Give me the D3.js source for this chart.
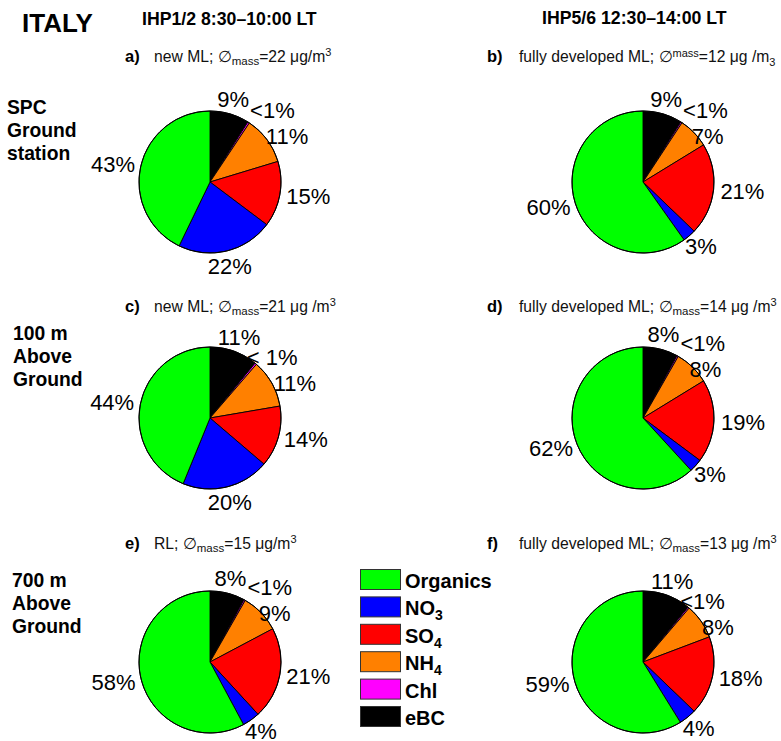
<!DOCTYPE html>
<html><head><meta charset="utf-8">
<script src="https://cdn.jsdelivr.net/npm/d3@7"></script>
<style>body{margin:0;background:#fff}svg{display:block;font-family:"Liberation Sans",Arial,Helvetica,sans-serif}</style>
</head><body>
<svg id="c" width="781" height="741"></svg>
<script>
// ---- data ----
const components = ["eBC","Chl","NH4","SO4","NO3","Organics"];
const colors = ["#000000","#ff00ff","#ff8000","#ff0000","#0000ff","#00ff00"];
const pieA = [9, 0.4, 11, 15, 22, 43];
const pieB = [9, 0.3, 7, 21, 3, 60];
const pieC = [11, 0.4, 11, 14, 20, 44];
const pieD = [8, 0.3, 8, 19, 3, 62];
const pieE = [8, 0.3, 9, 21, 4, 58];
const pieF = [11, 0.3, 8, 18, 4, 59];
const labA = ["9%","<1%","11%","15%","22%","43%"];
const labB = ["9%","<1%","7%","21%","3%","60%"];
const labC = ["11%","< 1%","11%","14%","20%","44%"];
const labD = ["8%","<1%","8%","19%","3%","62%"];
const labE = ["8%","<1%","9%","21%","4%","58%"];
const labF = ["11%","<1%","8%","18%","4%","59%"];
const panelLetters = ["a)","b)","c)","d)","e)","f)"];
const panelLayer = ["new ML","fully developed ML","new ML","fully developed ML","RL","fully developed ML"];
const panelMass = [22,12,21,14,15,13];
const columnTitles = ["IHP1/2 8:30\u201310:00 LT","IHP5/6 12:30\u201314:00 LT"];
const rowTitles = [["SPC","Ground","station"],["100 m","Above","Ground"],["700 m","Above","Ground"]];
const legendOrder = [["Organics",""],["NO","3"],["SO","4"],["NH","4"],["Chl",""],["eBC",""]];
const legendColors = ["#00ff00","#0000ff","#ff0000","#ff8000","#ff00ff","#000000"];

// ---- layout ----
const svg = d3.select("#c");
const colX = [210, 643], rowY = [182, 418, 662], R = 71;
const subY = [62, 312, 549];
const rowBase = [114, 340, 587], rowX = [7, 13, 12];

svg.append("text").attr("x",22).attr("y",32).attr("font-size",26).attr("font-weight","bold").text("ITALY");
svg.append("text").attr("x",142).attr("y",25).attr("font-size",17.7).attr("font-weight","bold").text(columnTitles[0]);
svg.append("text").attr("x",542).attr("y",24).attr("font-size",17.7).attr("font-weight","bold").text(columnTitles[1]);

rowTitles.forEach((lines,i)=>{
  const t = svg.append("text").attr("font-size",19.3).attr("font-weight","bold");
  lines.forEach((l,j)=>t.append("tspan").attr("x",rowX[i]).attr("y",rowBase[i]+j*23).text(l));
});

const pies = [pieA,pieB,pieC,pieD,pieE,pieF];
const labs = [labA,labB,labC,labD,labE,labF];
const pieGen = d3.pie().sort(null).value(d=>d);
const arc = d3.arc().innerRadius(0).outerRadius(R);

pies.forEach((vals,k)=>{
  const col = k%2, row = Math.floor(k/2);
  const cx = colX[col], cy = rowY[row];
  const g = svg.append("g").attr("transform",`translate(${cx},${cy})`);
  const arcs = pieGen(vals);
  g.selectAll("path").data(arcs).enter().append("path")
    .attr("d",arc).attr("fill",(d,i)=>colors[i]).attr("stroke","#000").attr("stroke-width",0.9);
  g.append("circle").attr("r",R).attr("fill","none").attr("stroke","#000").attr("stroke-width",1);
  // labels
  const fs = 22, h = 15;
  const placed = [];
  arcs.forEach((d,i)=>{
    const a = (d.startAngle+d.endAngle)/2;
    const txt = labs[k][i];
    const w = txt.length*0.6*fs*0.9 + (txt.includes("%")?0.3*fs:0);
    const s = Math.sin(a), c = Math.cos(a);
    let x = (R+8+w/2*Math.abs(s))*s;
    let y = -(R+8+h/2*Math.abs(c))*c;
    const prev = placed[placed.length-1];
    if(prev){
      const ox = Math.abs(x-prev.x) < (w+prev.w)/2;
      const dy = Math.abs(y-prev.y);
      const deg = a*180/Math.PI;
      if(deg < 42){
        if(ox && dy < 15) x = prev.x + prev.w/2 + 3 + w/2;
        else if(ox && dy < 20) y = prev.y + 20;
      } else {
        if(ox && dy < 24) y = prev.y + 26;
      }
    }
    placed.push({x,y,w});
    g.append("text").attr("x",x).attr("y",y).attr("dy","0.36em").attr("text-anchor","middle")
      .attr("font-size",fs).text(txt);
  });
  // subtitle
  const lx = col===0 ? 125 : 487;
  const tx = col===0 ? 154 : 519;
  const sy = subY[row];
  svg.append("text").attr("x",lx).attr("y",sy).attr("font-size",16.5).attr("font-weight","bold").text(panelLetters[k]);
  const t = svg.append("text").attr("x",tx).attr("y",sy).attr("font-size",15.7).attr("fill","#111");
  t.append("tspan").text(panelLayer[k]+"; \u2205");
  if(k===1){
    t.append("tspan").attr("font-size",11).attr("dy",-5).text("mass");
    t.append("tspan").attr("dy",5).text("="+panelMass[k]+" \u03bcg /m");
    t.append("tspan").attr("font-size",11).attr("dy",4).text("3");
  } else {
    t.append("tspan").attr("font-size",11.5).attr("dy",3).text("mass");
    const sp = (k===0||k===4) ? "\u03bcg/m" : "\u03bcg /m";
    t.append("tspan").attr("dy",-3).text("="+panelMass[k]+" "+sp);
    t.append("tspan").attr("font-size",11).attr("dy",-6).text("3");
  }
});

// legend
const lg = svg.append("g");
legendOrder.forEach((l,i)=>{
  const y0 = 569 + i*27.4;
  lg.append("rect").attr("x",360.5).attr("y",y0+0.5).attr("width",40).attr("height",20)
    .attr("fill",legendColors[i]).attr("stroke","#333").attr("stroke-width",1);
  const t = lg.append("text").attr("x",405).attr("y",y0+19).attr("font-size",20).attr("font-weight","bold");
  t.append("tspan").text(l[0]);
  if(l[1]) t.append("tspan").attr("font-size",14).attr("dy",5).text(l[1]);
});
</script>
</body></html>
